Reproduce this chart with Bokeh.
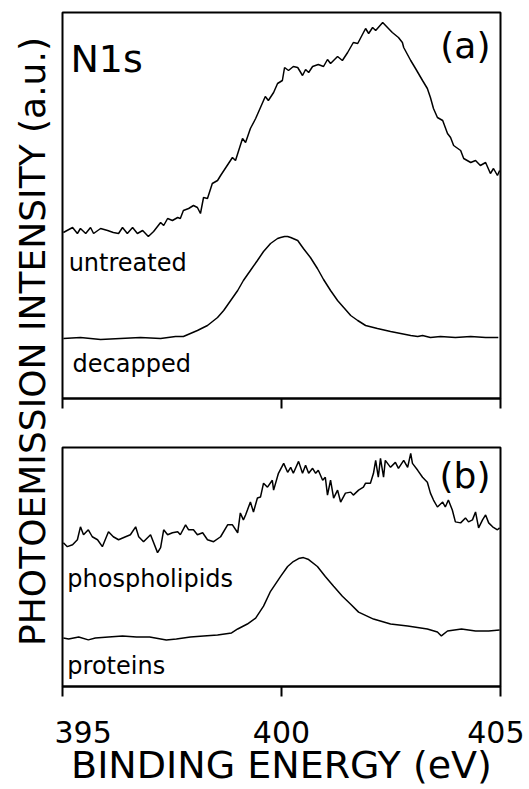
from math import pi
from bokeh.plotting import figure
from bokeh.layouts import row, column
from bokeh.models import Range1d, FixedTicker
from bokeh.core.properties import value
from bokeh.embed import file_html
from bokeh.resources import INLINE

FONT = "DejaVu Sans"

# ---------------- data ----------------
x_ticks = [395, 400, 405]
x_min, x_max = 395, 405
ymax_a = 386   # panel (a) intensity range, a.u.
ymax_b = 241   # panel (b) intensity range, a.u.

untreated_e = [395.02, 395.23, 395.34, 395.41, 395.53, 395.64, 395.71, 395.87, 396.03, 396.16,
               396.28, 396.37, 396.48, 396.60, 396.71, 396.83, 396.96, 397.08, 397.24, 397.31,
               397.40, 397.51, 397.63, 397.69, 397.76, 397.88, 397.99, 398.08, 398.15, 398.22,
               398.31, 398.42, 398.54, 398.61, 398.88, 398.95, 399.11, 399.18, 399.29, 399.41,
               399.52, 399.63, 399.70, 399.82, 399.91, 400.02, 400.07, 400.16, 400.27, 400.37,
               400.48, 400.55, 400.62, 400.71, 400.84, 400.96, 401.05, 401.12, 401.28, 401.39,
               401.51, 401.64, 401.74, 401.80, 401.92, 401.99, 402.08, 402.15, 402.31, 402.42,
               402.53, 402.67, 402.76, 402.79, 402.95, 403.06, 403.22, 403.33, 403.40, 403.47,
               403.56, 403.68, 403.79, 403.86, 403.93, 404.09, 404.16, 404.32, 404.43, 404.54,
               404.66, 404.77, 404.84, 404.93, 404.98]
untreated_i = [166, 171, 165, 170, 165, 171, 165, 170, 168, 166,
               165, 171, 165, 171, 165, 168, 162, 167, 176, 173,
               180, 178, 181, 180, 188, 190, 193, 191, 185, 201,
               200, 215, 218, 223, 241, 238, 260, 256, 270, 280,
               291, 302, 298, 306, 315, 318, 331, 328, 332, 331,
               323, 329, 326, 332, 334, 332, 339, 335, 342, 338,
               346, 356, 355, 360, 370, 365, 371, 368, 376, 371,
               366, 361, 356, 351, 338, 330, 318, 310, 301, 290,
               281, 278, 265, 261, 253, 248, 240, 236, 238, 233,
               236, 225, 230, 223, 228]

decapped_e = [395.02, 395.41, 395.87, 396.32, 396.78, 397.24, 397.58, 397.76, 397.92, 398.08,
              398.31, 398.54, 398.68, 398.84, 399.00, 399.13, 399.29, 399.45, 399.59, 399.75,
              399.91, 399.98, 400.07, 400.14, 400.21, 400.37, 400.50, 400.66, 400.82, 400.96,
              401.12, 401.28, 401.42, 401.58, 401.74, 401.92, 402.19, 402.49, 402.72, 402.95,
              403.11, 403.22, 403.40, 403.63, 403.97, 404.32, 404.66, 404.95]
decapped_i = [60, 61, 59, 60, 61, 60, 62, 62, 65, 68,
              73, 81, 88, 98, 108, 118, 128, 138, 147, 155,
              160, 161, 162, 162, 161, 158, 150, 141, 130, 119,
              108, 98, 91, 83, 78, 73, 70, 67, 65, 63,
              62, 63, 61, 62, 61, 62, 61, 61]

phospholipids_e = [395.02, 395.11, 395.23, 395.34, 395.41, 395.48, 395.59, 395.68, 395.80, 395.91,
                   396.05, 396.16, 396.28, 396.44, 396.55, 396.67, 396.74, 396.85, 397.01, 397.17,
                   397.24, 397.31, 397.40, 397.51, 397.63, 397.69, 397.81, 397.88, 397.99, 398.08,
                   398.20, 398.31, 398.45, 398.61, 398.77, 398.88, 399.00, 399.06, 399.13, 399.18,
                   399.29, 399.36, 399.45, 399.52, 399.59, 399.68, 399.79, 399.82, 399.93, 400.05,
                   400.14, 400.21, 400.27, 400.39, 400.48, 400.55, 400.62, 400.71, 400.78, 400.84,
                   400.94, 401.00, 401.05, 401.12, 401.19, 401.28, 401.35, 401.46, 401.58, 401.64,
                   401.76, 401.87, 401.92, 402.03, 402.10, 402.15, 402.21, 402.26, 402.33, 402.37,
                   402.49, 402.60, 402.67, 402.79, 402.88, 402.95, 402.99, 403.11, 403.22, 403.33,
                   403.40, 403.47, 403.56, 403.68, 403.74, 403.81, 403.90, 403.97, 404.09, 404.20,
                   404.27, 404.36, 404.43, 404.50, 404.59, 404.66, 404.73, 404.82, 404.93, 404.98]
phospholipids_i = [145, 141, 143, 148, 161, 153, 158, 151, 148, 141,
                   156, 151, 148, 151, 153, 161, 151, 146, 153, 135,
                   140, 158, 153, 155, 156, 153, 163, 158, 158, 153,
                   155, 148, 146, 151, 163, 163, 155, 175, 168, 173,
                   186, 176, 190, 191, 205, 201, 208, 198, 215, 225,
                   216, 221, 215, 227, 215, 223, 215, 220, 215, 218,
                   208, 211, 193, 208, 190, 198, 186, 195, 196, 193,
                   198, 201, 205, 205, 215, 228, 211, 230, 211, 228,
                   221, 226, 220, 228, 221, 235, 225, 218, 211, 206,
                   195, 188, 181, 186, 181, 188, 178, 166, 165, 170,
                   166, 168, 176, 160, 168, 173, 165, 161, 158, 160]

proteins_e = [395.02, 395.14, 395.37, 395.59, 395.75, 396.05, 396.37, 396.69, 396.99, 397.37,
              397.60, 397.92, 398.22, 398.54, 398.86, 399.00, 399.22, 399.41, 399.59, 399.75,
              399.98, 400.14, 400.27, 400.39, 400.50, 400.62, 400.82, 401.00, 401.19, 401.39,
              401.58, 401.76, 402.10, 402.49, 402.88, 403.33, 403.56, 403.65, 403.79, 404.11,
              404.43, 404.73, 404.98]
proteins_i = [49, 48, 50, 47, 49, 50, 51, 50, 50, 47,
              48, 50, 51, 52, 54, 58, 63, 69, 81, 96,
              111, 121, 126, 129, 130, 128, 121, 111, 101, 91,
              83, 75, 68, 63, 61, 58, 55, 51, 56, 58,
              56, 56, 57]

y_label = "PHOTOEMISSION INTENSITY (a.u.)"
x_label = "BINDING ENERGY (eV)"


def panel(height, ymax, top, bottom, show_labels):
    p = figure(width=470, height=height, output_backend="svg", toolbar_location=None,
               x_range=Range1d(x_min, x_max), y_range=Range1d(0, ymax),
               y_axis_location=None, min_border_left=8, min_border_right=24,
               min_border_top=top, min_border_bottom=bottom)
    p.xgrid.visible = False
    p.ygrid.visible = False
    p.outline_line_color = "black"
    p.outline_line_width = 2
    p.background_fill_color = "white"
    p.border_fill_color = "white"
    ax = p.xaxis[0]
    ax.ticker = FixedTicker(ticks=x_ticks)
    ax.axis_line_width = 2
    ax.major_tick_line_width = 2
    ax.major_tick_out = 10
    ax.major_tick_in = 0
    ax.minor_tick_line_color = None
    ax.major_label_text_font = FONT
    ax.major_label_text_color = "black"
    if show_labels:
        ax.major_label_text_font_size = "30px"
        ax.major_label_standoff = 24
        ax.axis_label = x_label
        ax.axis_label_text_font = FONT
        ax.axis_label_text_font_size = "38px"
        ax.axis_label_text_font_style = "normal"
        ax.axis_label_text_color = "black"
        ax.axis_label_standoff = -3
    else:
        ax.major_label_text_font_size = "1px"
        ax.major_label_overrides = {t: "" for t in x_ticks}
    return p


pa = panel(414, ymax_a, 12, 16, False)
pa.line(untreated_e, untreated_i, line_color="black", line_width=1.5)
pa.line(decapped_e, decapped_i, line_color="black", line_width=1.5)
pa.text(x=[395.18], y=[340], text=["N1s"], text_font=value(FONT), text_font_size="38px",
        text_align="left", text_baseline="alphabetic", text_color="black")
pa.text(x=[404.77], y=[353], text=["(a)"], text_font=value(FONT), text_font_size="36px",
        text_align="right", text_baseline="middle", text_color="black")
pa.text(x=[395.14], y=[136], text=["untreated"], text_font=value(FONT), text_font_size="24px",
        text_align="left", text_baseline="alphabetic", text_color="black")
pa.text(x=[395.23], y=[35], text=["decapped"], text_font=value(FONT), text_font_size="24px",
        text_align="left", text_baseline="alphabetic", text_color="black")

pb = panel(375, ymax_b, 33, 101, True)
pb.line(phospholipids_e, phospholipids_i, line_color="black", line_width=1.5)
pb.line(proteins_e, proteins_i, line_color="black", line_width=1.5)
pb.text(x=[404.77], y=[213], text=["(b)"], text_font=value(FONT), text_font_size="36px",
        text_align="right", text_baseline="middle", text_color="black")
pb.text(x=[395.11], y=[108], text=["phospholipids"], text_font=value(FONT), text_font_size="24px",
        text_align="left", text_baseline="alphabetic", text_color="black")
pb.text(x=[395.11], y=[21], text=["proteins"], text_font=value(FONT), text_font_size="24px",
        text_align="left", text_baseline="alphabetic", text_color="black")

pl = figure(width=54, height=789, output_backend="svg", toolbar_location=None,
            x_range=Range1d(0, 54), y_range=Range1d(0, 789),
            x_axis_location=None, y_axis_location=None,
            min_border=0, min_border_left=0, min_border_right=0,
            min_border_top=0, min_border_bottom=0)
pl.xgrid.visible = False
pl.ygrid.visible = False
pl.outline_line_color = None
pl.text(x=[32], y=[448], text=[y_label], angle=pi / 2, text_font=value(FONT),
        text_font_size="36px", text_align="center", text_baseline="middle", text_color="black")

layout = row(pl, column(pa, pb))

open("out.html", "w").write(file_html(layout, INLINE))
